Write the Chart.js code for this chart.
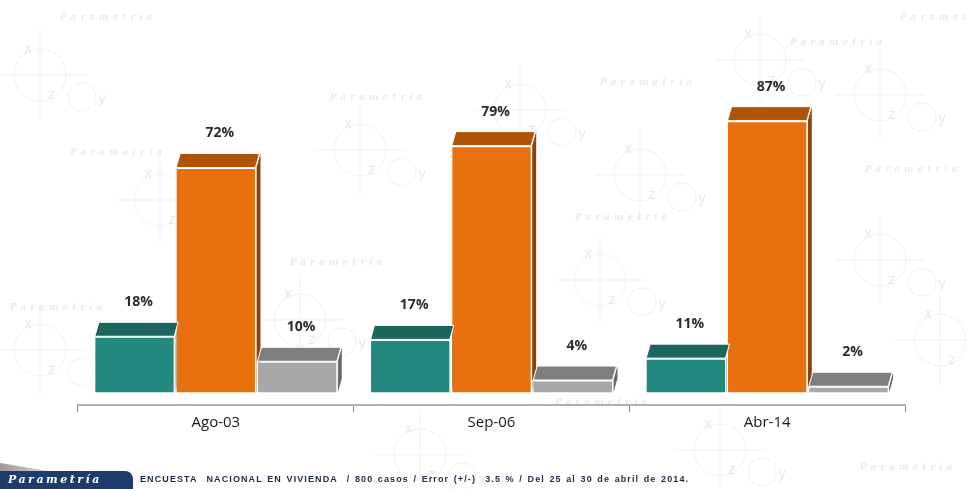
<!DOCTYPE html>
<html>
<head>
<meta charset="utf-8">
<script src="https://cdn.jsdelivr.net/npm/chart.js@4/dist/chart.umd.min.js"></script>
<style>
  html, body { margin: 0; padding: 0; background: #fff; }
  #wrap { position: relative; width: 966px; height: 489px; overflow: hidden; }
  canvas { position: absolute; left: 0; top: 0; }
  .logo {
    position: absolute; left: 0; top: 471px; width: 133px; height: 18px;
    background: #1d3b6c; border-top-right-radius: 8px;
    color: #fff; font: italic bold 11px "DejaVu Serif", serif; letter-spacing: 2.5px;
    line-height: 18px; padding-left: 8px; box-sizing: border-box;
  }
  .logo-shadow {
    position: absolute; left: 0; top: 463px; width: 60px; height: 10px;
    background: linear-gradient(to right, #9a9a9a, #e6e6e6);
    clip-path: polygon(0 0, 100% 100%, 0 100%);
  }
  .foot {
    position: absolute; left: 140px; top: 474px;
    font: bold 9px "Liberation Sans", Arial, sans-serif; color: #1d2a44;
    letter-spacing: 1.1px; word-spacing: 1px;
    white-space: pre;
  }
</style>
</head>
<body>
<div id="wrap">
  <canvas id="grafico" width="966" height="489"></canvas>
  <div class="logo-shadow"></div>
  <div class="logo">Parametría</div>
  <div class="foot">ENCUESTA  NACIONAL EN VIVIENDA  / 800 casos / Error (+/-)  3.5 % / Del 25 al 30 de abril de 2014.</div>
</div>
<script>
const categorias = ["Ago-03", "Sep-06", "Abr-14"];
const serieA = [18, 17, 11];
const serieB = [72, 79, 87];
const serieC = [10, 4, 2];

const frente = ["#23897f", "#e8700f", "#a8a8a8"];
const tapa = ["#1b665f", "#b25407", "#7f7f7f"];
const lado = ["#15524c", "#8f4306", "#6a6a6a"];

const DX = 4;
const DY = 14;

// marca de agua suave
const fondo = {
  id: "fondo",
  beforeDraw(chart) {
    const ctx = chart.ctx;
    ctx.save();
    ctx.strokeStyle = "rgba(190,208,224,0.28)";
    ctx.fillStyle = "rgba(180,198,216,0.35)";
    ctx.lineWidth = 1;
    const cruces = [[40, 75], [160, 200], [360, 150], [520, 110], [640, 175], [760, 60], [880, 95], [40, 350], [300, 320], [600, 280], [880, 260], [940, 340], [720, 450], [420, 455]];
    cruces.forEach(([x, y]) => {
      ctx.beginPath();
      ctx.arc(x, y, 26, 0, Math.PI * 2);
      ctx.moveTo(x - 45, y); ctx.lineTo(x + 45, y);
      ctx.moveTo(x, y - 45); ctx.lineTo(x, y + 45);
      ctx.stroke();
      ctx.beginPath();
      ctx.arc(x + 42, y + 22, 14, 0, Math.PI * 2);
      ctx.stroke();
      ctx.font = "14px 'DejaVu Sans'";
      ctx.fillText("x", x - 16, y - 22);
      ctx.fillText("y", x + 58, y + 28);
      ctx.fillText("z", x + 8, y + 24);
    });
    ctx.font = "italic bold 9px 'DejaVu Serif'";
    const textos = [[70, 155], [330, 100], [790, 45], [290, 265], [575, 220], [865, 172], [10, 310], [555, 405], [860, 470], [900, 20], [600, 85], [60, 20]];
    textos.forEach(([x, y]) => {
      ctx.save();
      ctx.letterSpacing = "4px";
      ctx.fillText("Parametría", x, y);
      ctx.restore();
    });
    ctx.restore();
  },
};

// caras laterales detras de las barras
const lados = {
  id: "lados",
  beforeDatasetsDraw(chart) {
    const ctx = chart.ctx;
    ctx.save();
    chart.data.datasets.forEach((ds, i) => {
      chart.getDatasetMeta(i).data.forEach((bar) => {
        const r = bar.x + bar.width / 2;
        ctx.fillStyle = lado[i];
        ctx.beginPath();
        ctx.moveTo(r, bar.y);
        ctx.lineTo(r + DX, bar.y - DY);
        ctx.lineTo(r + DX, bar.base - DY);
        ctx.lineTo(r, bar.base);
        ctx.closePath();
        ctx.fill();
      });
    });
    ctx.restore();
  },
};

// tapas superiores y etiquetas
const tapas = {
  id: "tapas",
  afterDatasetsDraw(chart) {
    const ctx = chart.ctx;
    ctx.save();
    chart.data.datasets.forEach((ds, i) => {
      chart.getDatasetMeta(i).data.forEach((bar, j) => {
        const l = bar.x - bar.width / 2 + 1;
        const r = bar.x + bar.width / 2 - 1;
        ctx.fillStyle = tapa[i];
        ctx.strokeStyle = "#ffffff";
        ctx.lineWidth = 1;
        ctx.beginPath();
        ctx.moveTo(l, bar.y);
        ctx.lineTo(r, bar.y);
        ctx.lineTo(r + DX, bar.y - DY);
        ctx.lineTo(l + DX, bar.y - DY);
        ctx.closePath();
        ctx.fill();
        ctx.stroke();

        ctx.fillStyle = "#2b2b2b";
        ctx.font = "bold 14px 'Open Sans', 'Liberation Sans', sans-serif";
        ctx.textAlign = "center";
        ctx.textBaseline = "middle";
        ctx.fillText(ds.data[j] + "%", bar.x + 4, bar.y - DY - 20);
      });
    });
    ctx.restore();
  },
};

new Chart(document.getElementById("grafico"), {
  type: "bar",
  data: {
    labels: categorias,
    datasets: [
      { data: serieA, backgroundColor: frente[0] },
      { data: serieB, backgroundColor: frente[1] },
      { data: serieC, backgroundColor: frente[2] },
    ].map((d) => ({
      ...d,
      borderColor: "#ffffff",
      borderWidth: 1.5,
      barPercentage: 1,
      categoryPercentage: 0.885,
    })),
  },
  options: {
    responsive: false,
    animation: false,
    layout: { padding: { left: 78, right: 61, top: 80, bottom: 55 } },
    plugins: {
      legend: { display: false },
      tooltip: { enabled: false },
      title: { display: false },
    },
    scales: {
      x: {
        grid: {
          offset: true,
          drawOnChartArea: false,
          color: "#8a8a8a",
          tickLength: 7,
        },
        border: { display: true, color: "#b0b0b0", width: 2 },
        ticks: {
          color: "#1a1a1a",
          font: { family: "'Open Sans', 'Liberation Sans', sans-serif", size: 15 },
          padding: 2,
        },
      },
      y: {
        display: false,
        min: -4,
        max: 100,
      },
    },
  },
  plugins: [fondo, lados, tapas],
});
</script>
</body>
</html>
